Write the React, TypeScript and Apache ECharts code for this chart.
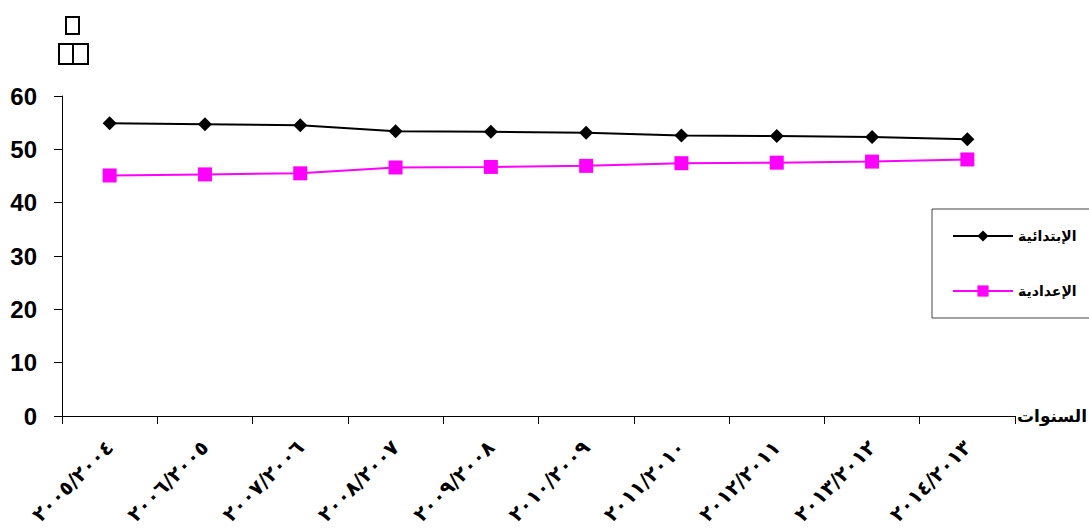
import React, { useEffect, useRef } from "react";
import * as echarts from "echarts";

const categories = [
  "٢٠٠٥/٢٠٠٤",
  "٢٠٠٦/٢٠٠٥",
  "٢٠٠٧/٢٠٠٦",
  "٢٠٠٨/٢٠٠٧",
  "٢٠٠٩/٢٠٠٨",
  "٢٠١٠/٢٠٠٩",
  "٢٠١١/٢٠١٠",
  "٢٠١٢/٢٠١١",
  "٢٠١٣/٢٠١٢",
  "٢٠١٤/٢٠١٣",
];
const primaryName = "الإبتدائية";
const prepName = "الإعدادية";
const primaryValues = [54.9, 54.7, 54.5, 53.4, 53.3, 53.1, 52.6, 52.5, 52.3, 51.9];
const prepValues = [45.1, 45.3, 45.5, 46.6, 46.7, 46.9, 47.4, 47.5, 47.7, 48.1];
const xAxisName = "السنوات";

export default function App() {
  const ref = useRef<HTMLDivElement>(null);
  useEffect(() => {
    if (!ref.current) return;
    const chart = echarts.init(ref.current, undefined, { renderer: "svg" });
    chart.setOption({
      animation: false,
      backgroundColor: "#ffffff",
      grid: {
        left: 62,
        right: 74,
        top: 96,
        bottom: 113,
        containLabel: false,
        outerBoundsMode: "none",
      },
      legend: {
        orient: "vertical",
        left: 932,
        top: 209,
        padding: [20, 20, 20, 20],
        itemWidth: 60,
        itemHeight: 14,
        itemGap: 41,
        borderColor: "#444",
        borderWidth: 1,
        textStyle: {
          fontFamily: "DejaVu Sans",
          fontWeight: "bold",
          fontSize: 14,
          color: "#000",
        },
        data: [primaryName, prepName],
      },
      xAxis: {
        type: "category",
        data: categories,
        boundaryGap: true,
        name: xAxisName,
        nameLocation: "end",
        nameGap: 2,
        nameTextStyle: {
          fontFamily: "DejaVu Sans",
          fontWeight: "bold",
          fontSize: 17,
          color: "#000",
          verticalAlign: "middle",
        },
        axisLine: { lineStyle: { color: "#000", width: 1 } },
        axisTick: { show: true, length: 8, inside: false, lineStyle: { color: "#000" } },
        splitLine: { show: false },
        axisLabel: {
          rotate: 45,
          interval: 0,
          margin: 28,
          fontFamily: "DejaVu Sans",
          fontWeight: "bold",
          fontSize: 20,
          color: "#000",
        },
      },
      yAxis: {
        type: "value",
        min: 0,
        max: 60,
        interval: 10,
        axisLine: { show: true, lineStyle: { color: "#000", width: 1 } },
        axisTick: { show: true, length: 8, inside: false, lineStyle: { color: "#000" } },
        splitLine: { show: false },
        axisLabel: {
          margin: 25,
          fontFamily: "Liberation Sans",
          fontWeight: "bold",
          fontSize: 24,
          color: "#000",
        },
      },
      graphic: [
        {
          type: "rect",
          shape: { x: 66, y: 17, width: 13, height: 17 },
          style: { fill: "#fff", stroke: "#000", lineWidth: 2 },
        },
        {
          type: "rect",
          shape: { x: 59, y: 44, width: 14, height: 20 },
          style: { fill: "#fff", stroke: "#000", lineWidth: 2 },
        },
        {
          type: "rect",
          shape: { x: 73, y: 44, width: 15, height: 20 },
          style: { fill: "#fff", stroke: "#000", lineWidth: 2 },
        },
      ],
      series: [
        {
          name: primaryName,
          type: "line",
          data: primaryValues,
          symbol: "diamond",
          symbolSize: 14,
          lineStyle: { color: "#000", width: 2 },
          itemStyle: { color: "#000" },
        },
        {
          name: prepName,
          type: "line",
          data: prepValues,
          symbol: "rect",
          symbolSize: 14,
          lineStyle: { color: "#ff00ff", width: 2 },
          itemStyle: { color: "#ff00ff" },
        },
      ],
    });
    return () => chart.dispose();
  }, []);
  return <div ref={ref} style={{ width: 1089, height: 529, position: "absolute", left: 0, top: 0 }} />;
}
